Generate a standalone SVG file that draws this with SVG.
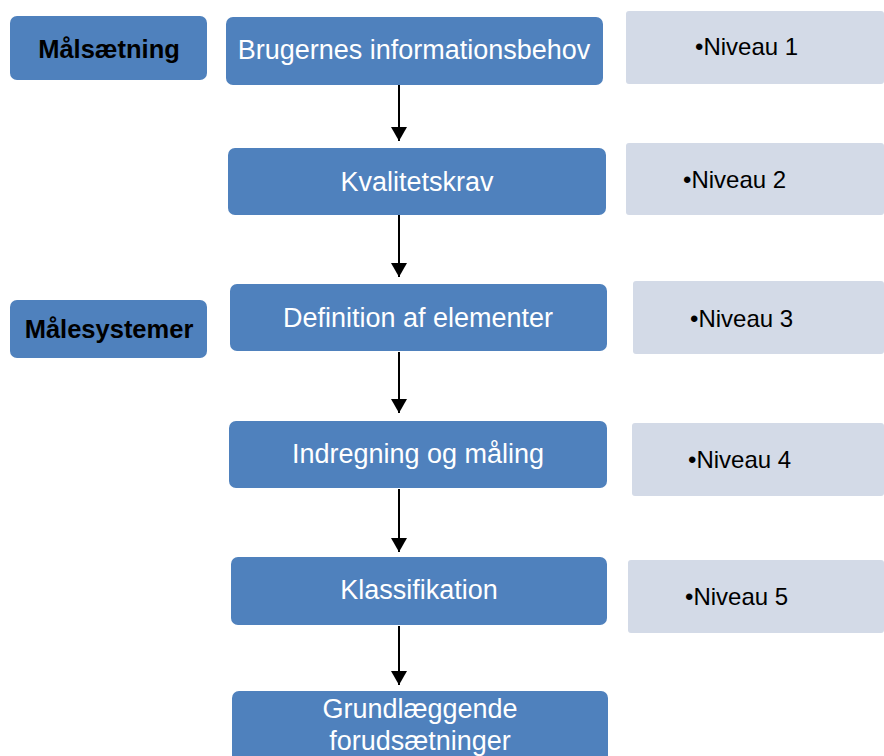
<svg xmlns="http://www.w3.org/2000/svg" width="884" height="756" viewBox="0 0 884 756">
<style>
.box{fill:#4f81bd;}
.lvl{fill:#d3dae7;}
.lbl{font-family:"Liberation Sans",Arial,sans-serif;font-size:25.5px;font-weight:bold;fill:#000;text-anchor:middle;}
.main{font-family:"Liberation Sans",Arial,sans-serif;font-size:27px;fill:#fff;text-anchor:middle;}
.niv{font-family:"Liberation Sans",Arial,sans-serif;font-size:24px;fill:#000;}
.conn{stroke:#000;stroke-width:2;fill:none;marker-end:url(#ah);}
</style>
<defs>
<marker id="ah" markerWidth="18" markerHeight="16" refX="14" refY="8" orient="auto" markerUnits="userSpaceOnUse">
<path d="M0,0 L14,8 L0,16 Z" fill="#000"/>
</marker>
</defs>
<rect width="884" height="756" fill="#fff"/>
<g id="malsaetning"><rect class="box" x="10" y="16" width="197" height="64" rx="7"/><text class="lbl" x="109" y="58">Målsætning</text></g>
<g id="malesystemer"><rect class="box" x="10" y="300" width="197" height="58" rx="7"/><text class="lbl" x="109" y="338">Målesystemer</text></g>
<g id="n1"><rect class="box" x="226" y="17" width="377" height="68" rx="7"/><text class="main" x="414" y="59">Brugernes informationsbehov</text></g>
<g id="n2"><rect class="box" x="228" y="148" width="378" height="67" rx="7"/><text class="main" x="417" y="191">Kvalitetskrav</text></g>
<g id="n3"><rect class="box" x="230" y="284" width="377" height="67" rx="7"/><text class="main" x="418" y="327">Definition af elementer</text></g>
<g id="n4"><rect class="box" x="229" y="421" width="378" height="67" rx="7"/><text class="main" x="418" y="463">Indregning og måling</text></g>
<g id="n5"><rect class="box" x="231" y="557" width="376" height="68" rx="7"/><text class="main" x="419" y="599">Klassifikation</text></g>
<g id="n6"><rect class="box" x="232" y="691" width="376" height="75" rx="7"/><text class="main" x="420" y="718">Grundlæggende</text><text class="main" x="420" y="750">forudsætninger</text></g>
<g id="l1"><rect class="lvl" x="626" y="11" width="258" height="73" rx="3"/><text class="niv" x="695" y="55">•Niveau 1</text></g>
<g id="l2"><rect class="lvl" x="626" y="143" width="258" height="72" rx="3"/><text class="niv" x="683" y="188">•Niveau 2</text></g>
<g id="l3"><rect class="lvl" x="633" y="281" width="251" height="73" rx="3"/><text class="niv" x="690" y="327">•Niveau 3</text></g>
<g id="l4"><rect class="lvl" x="632" y="423" width="252" height="73" rx="3"/><text class="niv" x="688" y="468">•Niveau 4</text></g>
<g id="l5"><rect class="lvl" x="628" y="560" width="256" height="73" rx="3"/><text class="niv" x="685" y="605">•Niveau 5</text></g>
<g id="connectors">
<line class="conn" x1="399" y1="85" x2="399" y2="141"/>
<line class="conn" x1="399" y1="215" x2="399" y2="277"/>
<line class="conn" x1="399" y1="352" x2="399" y2="413"/>
<line class="conn" x1="399" y1="489" x2="399" y2="552"/>
<line class="conn" x1="399" y1="626" x2="399" y2="685"/>
</g>
</svg>
